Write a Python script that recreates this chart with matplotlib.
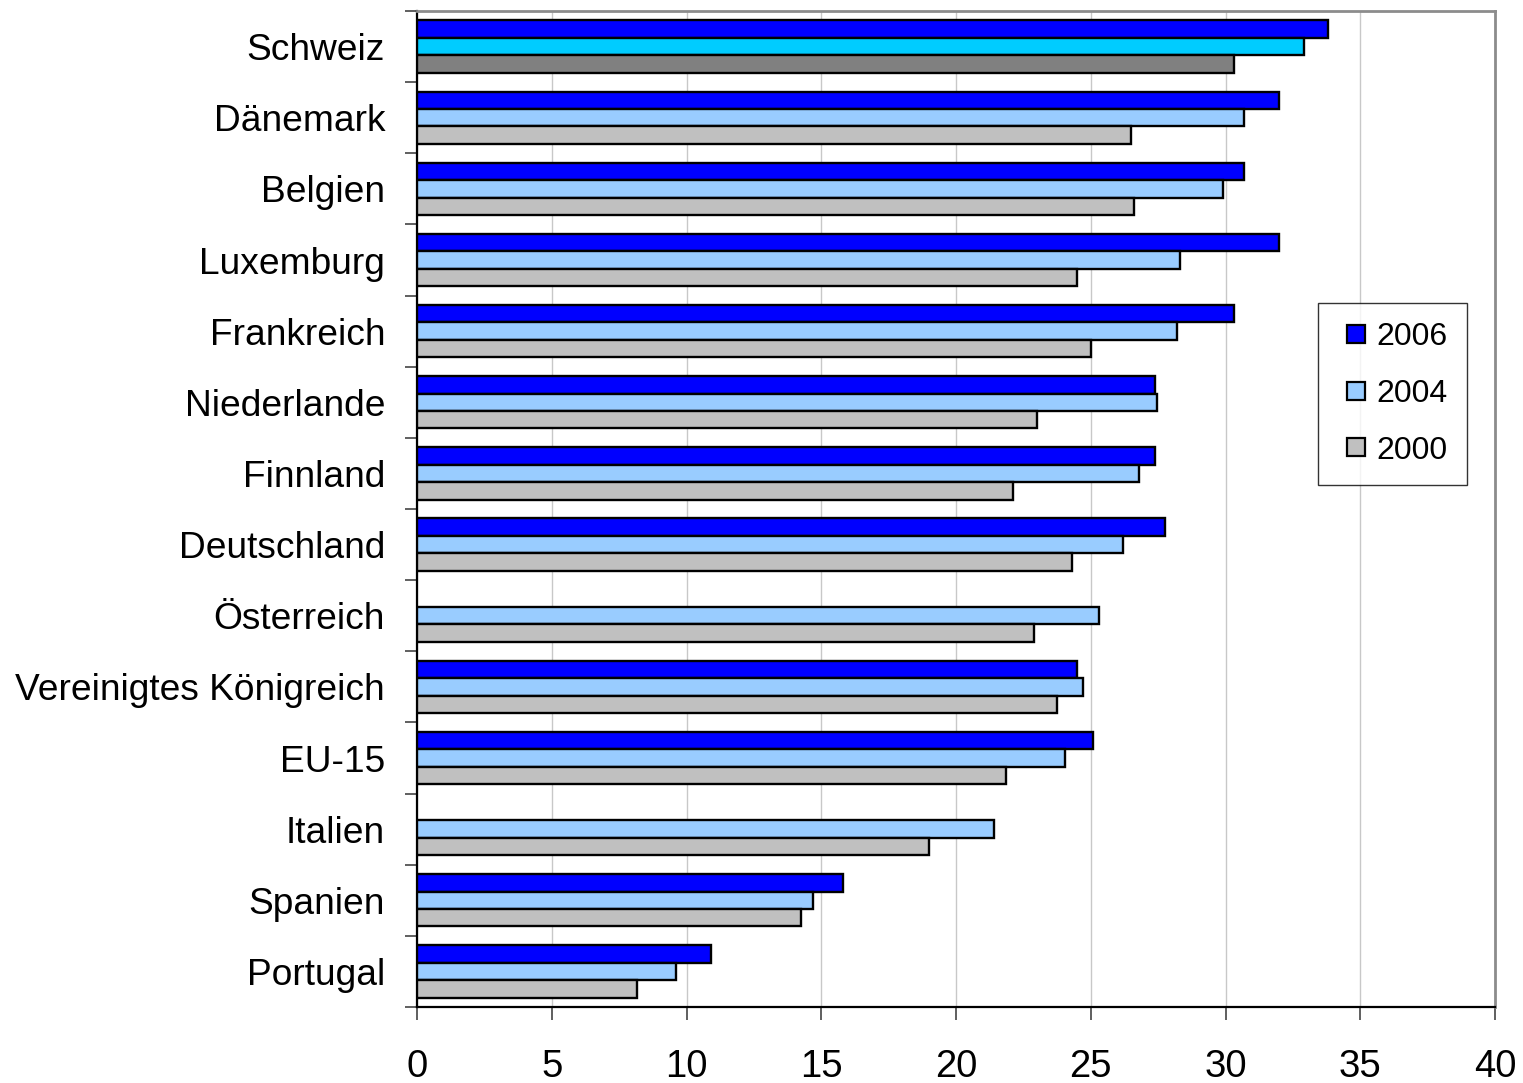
import numpy as np
import matplotlib
matplotlib.use("Agg")
import matplotlib.pyplot as plt
from matplotlib.lines import Line2D

plt.rcParams['font.family'] = ['Liberation Sans', 'DejaVu Sans']

categories = ["Schweiz", "Dänemark", "Belgien", "Luxemburg", "Frankreich",
              "Niederlande", "Finnland", "Deutschland", "Österreich",
              "Vereinigtes Königreich", "EU-15", "Italien", "Spanien", "Portugal"]
v2006 = [33.8, 32.0, 30.7, 32.0, 30.3, 27.4, 27.4, 27.75, np.nan, 24.5, 25.1, np.nan, 15.8, 10.9]
v2004 = [32.9, 30.7, 29.9, 28.3, 28.2, 27.45, 26.8, 26.2, 25.3, 24.7, 24.05, 21.4, 14.7, 9.6]
v2000 = [30.3, 26.5, 26.6, 24.5, 25.0, 23.0, 22.1, 24.3, 22.9, 23.75, 21.85, 19.0, 14.25, 8.15]
series_labels = ["2006", "2004", "2000"]
xticks = [0, 5, 10, 15, 20, 25, 30, 35, 40]

colors = ["#0000FF", "#99CCFF", "#C0C0C0"]
highlight = "Schweiz"
highlight_colors = ["#0000FF", "#00CCFF", "#808080"]

fig = plt.figure(figsize=(15.23, 10.83), dpi=100)
ax = fig.add_axes([417/1523, 1 - 1007/1083, (1495-417)/1523, (1007-11)/1083])

n = len(categories)
y = np.arange(n)
h = 0.245
offsets = [-h, 0, h]
for i, (vals, col, hcol) in enumerate(zip([v2006, v2004, v2000], colors, highlight_colors)):
    fcs = [hcol if c == highlight else col for c in categories]
    ax.barh(y + offsets[i], vals, height=h, color=fcs, edgecolor="black",
            linewidth=1.7, zorder=3)

ax.set_xlim(0, 40)
ax.set_ylim(n - 0.5, -0.5)
ax.set_xticks(xticks)
ax.set_xticklabels([str(t) for t in xticks], fontsize=27.5)
ax.set_yticks(y)
ax.set_yticklabels(categories, fontsize=26.7)
ax.set_yticks(np.arange(n + 1) - 0.5, minor=True)
ax.tick_params(axis='y', which='major', length=0, pad=23)
ax.tick_params(axis='y', which='minor', length=9, width=1.2, color="#444444", direction='out')
ax.tick_params(axis='x', which='major', length=9, width=1.2, color="#444444", direction='out', pad=21)

ax.xaxis.grid(True, color="#C8C8C8", linewidth=1.0, zorder=0)
ax.set_axisbelow(True)

for s in ["left", "bottom"]:
    ax.spines[s].set_color("black")
    ax.spines[s].set_linewidth(1.6)
for s in ["top", "right"]:
    ax.spines[s].set_color("#8C8C8C")
    ax.spines[s].set_linewidth(2.0)

handles = [Line2D([], [], linestyle="none", marker="s", markersize=12.5,
                  markerfacecolor=c, markeredgecolor="black", markeredgewidth=1.6)
           for c in colors]
leg = fig.legend(handles, series_labels, loc="center",
                 bbox_to_anchor=(1392.5/1523, 1 - 394/1083),
                 fontsize=23, frameon=True, fancybox=False,
                 handlelength=1.2, handletextpad=0.05,
                 labelspacing=0.83, borderpad=0.6)
leg.get_frame().set_edgecolor("black")
leg.get_frame().set_linewidth(1.0)

fig.savefig("out.png", dpi=100)
